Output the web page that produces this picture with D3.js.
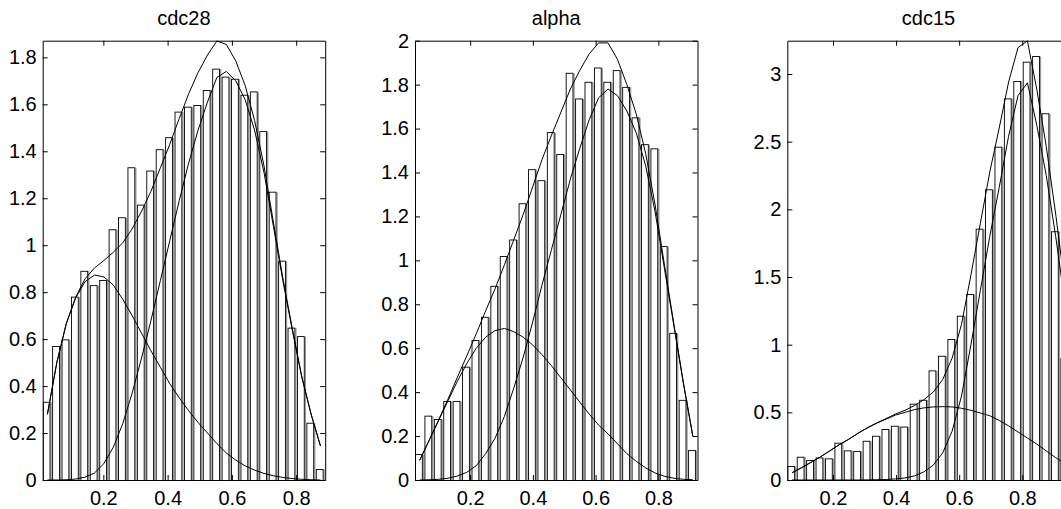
<!DOCTYPE html>
<html><head><meta charset="utf-8">
<script src="https://cdn.jsdelivr.net/npm/d3@7"></script>
<style>
body{margin:0;background:#fff;}
svg{display:block;}
text{font-family:"Liberation Sans",Arial,Helvetica,sans-serif;fill:#000;}
</style>
</head><body>
<svg id="chart" width="1061" height="509"></svg>
<script>
// ---------- data ----------
const titles = ["cdc28", "alpha", "cdc15"];
const xDomains = [[0.0113, 0.8903], [0.0242, 0.9247], [0.0552, 0.9506]];
const yMaxes = [1.871, 2.0, 3.246];
const xTickValues = [0.2, 0.4, 0.6, 0.8];
const yTicksCdc28 = [0, 0.2, 0.4, 0.6, 0.8, 1, 1.2, 1.4, 1.6, 1.8];
const yTicksAlpha = [0, 0.2, 0.4, 0.6, 0.8, 1, 1.2, 1.4, 1.6, 1.8, 2];
const yTicksCdc15 = [0, 0.5, 1, 1.5, 2, 2.5, 3];

// histogram bar heights (30 bins each)
const cdc28Bars = [0.333,0.571,0.599,0.781,0.891,0.830,0.852,1.068,1.119,1.332,1.173,1.318,1.409,1.460,1.569,1.590,1.597,1.661,1.752,1.718,1.709,1.641,1.655,1.486,1.228,0.934,0.649,0.613,0.244,0.047];
const alphaBars = [0.118,0.293,0.278,0.360,0.360,0.516,0.637,0.743,0.884,1.020,1.095,1.260,1.415,1.365,1.584,1.484,1.854,1.737,1.813,1.878,1.813,1.866,1.790,1.651,1.529,1.510,1.065,0.670,0.365,0.137];
const cdc15Bars = [0.103,0.172,0.148,0.167,0.160,0.276,0.219,0.215,0.290,0.327,0.377,0.401,0.395,0.564,0.593,0.810,0.918,1.042,1.214,1.374,1.857,2.148,2.463,2.820,2.948,3.091,3.133,2.710,1.838,0.900];

// fitted density curves, sampled at bin centres
const cdc28Comp1 = [0.28,0.50,0.665,0.775,0.845,0.873,0.865,0.83,0.77,0.70,0.625,0.55,0.48,0.41,0.35,0.295,0.245,0.20,0.155,0.115,0.085,0.06,0.042,0.028,0.018,0.011,0.006,0.003,0.001,0];
const cdc28Comp2 = [0,0,0.001,0.004,0.012,0.03,0.07,0.14,0.24,0.37,0.52,0.68,0.85,1.02,1.19,1.35,1.49,1.61,1.715,1.74,1.70,1.62,1.49,1.31,1.08,0.85,0.64,0.44,0.28,0.145];
const cdc28Total = [0.28,0.50,0.666,0.779,0.857,0.903,0.935,0.97,1.01,1.07,1.145,1.23,1.33,1.43,1.54,1.645,1.735,1.81,1.87,1.855,1.785,1.68,1.532,1.338,1.098,0.861,0.646,0.443,0.281,0.145];

const alphaComp1 = [0.09,0.18,0.27,0.36,0.45,0.53,0.60,0.65,0.68,0.69,0.675,0.65,0.615,0.57,0.52,0.465,0.41,0.355,0.30,0.25,0.21,0.165,0.12,0.085,0.055,0.032,0.017,0.008,0.003,0.001];
const alphaComp2 = [0,0.001,0.003,0.008,0.018,0.035,0.065,0.12,0.19,0.29,0.42,0.56,0.72,0.89,1.05,1.21,1.37,1.51,1.64,1.74,1.78,1.75,1.68,1.58,1.43,1.22,0.96,0.70,0.44,0.20];
const alphaTotal = [0.09,0.181,0.273,0.368,0.468,0.565,0.665,0.77,0.87,0.98,1.095,1.21,1.335,1.46,1.57,1.675,1.78,1.865,1.94,1.99,1.99,1.915,1.80,1.665,1.485,1.252,0.977,0.708,0.443,0.201];

const cdc15Comp1 = [0.054,0.09,0.13,0.17,0.215,0.26,0.30,0.345,0.385,0.42,0.45,0.48,0.50,0.52,0.533,0.54,0.542,0.54,0.53,0.515,0.495,0.475,0.44,0.40,0.355,0.31,0.265,0.215,0.165,0.12];
const cdc15Comp2 = [0,0,0,0,0,0,0,0,0.001,0.002,0.004,0.008,0.015,0.03,0.06,0.11,0.20,0.36,0.62,1.0,1.40,1.80,2.16,2.54,2.84,2.935,2.62,2.25,1.80,1.30];
const cdc15Total = [0.054,0.09,0.13,0.17,0.215,0.26,0.30,0.345,0.386,0.422,0.454,0.488,0.515,0.55,0.593,0.65,0.742,0.90,1.15,1.515,1.895,2.275,2.60,2.94,3.195,3.245,2.885,2.465,1.965,1.42];

const panels = [
  {title: titles[0], xd: xDomains[0], ymax: yMaxes[0], yt: yTicksCdc28, bars: cdc28Bars, curves: [cdc28Comp1, cdc28Comp2, cdc28Total]},
  {title: titles[1], xd: xDomains[1], ymax: yMaxes[1], yt: yTicksAlpha, bars: alphaBars, curves: [alphaComp1, alphaComp2, alphaTotal]},
  {title: titles[2], xd: xDomains[2], ymax: yMaxes[2], yt: yTicksCdc15, bars: cdc15Bars, curves: [cdc15Comp1, cdc15Comp2, cdc15Total]}
];

// ---------- layout ----------
const lefts = [42.7, 415, 787.3];
const pw = 282.5, topY = 40.7, bottomY = 480;
const svg = d3.select("#chart");
const fmt = d3.format("~g");

panels.forEach((p, pi) => {
  const L = lefts[pi], R = L + pw;
  const x = d3.scaleLinear().domain(p.xd).range([L, R]);
  const y = d3.scaleLinear().domain([0, p.ymax]).range([bottomY, topY]);
  const g = svg.append("g");
  const clipId = "clip" + pi;
  svg.append("clipPath").attr("id", clipId).append("rect")
     .attr("x", L).attr("y", topY - 1).attr("width", pw).attr("height", bottomY - topY + 2);
  const n = p.bars.length;
  const w = (p.xd[1] - p.xd[0]) / n;
  const edges = d3.range(n + 1).map(i => p.xd[0] + i * w);
  const centers = d3.range(n).map(i => p.xd[0] + (i + 0.5) * w);
  const plot = g.append("g").attr("clip-path", `url(#${clipId})`);

  // bars
  const bars = plot.selectAll("g.bar").data(p.bars).enter().append("g");
  bars.append("line")
    .attr("x1", (d, i) => x(edges[i + 1]) - 1)
    .attr("x2", (d, i) => x(edges[i + 1]) - 1)
    .attr("y1", d => y(d) + 0.5).attr("y2", bottomY)
    .attr("stroke", "#9a9a9a").attr("stroke-width", 1.3);
  bars.append("rect")
    .attr("x", (d, i) => x(edges[i]) + 0.5)
    .attr("y", d => y(d) + 0.5)
    .attr("width", (d, i) => x(edges[i + 1]) - x(edges[i]) - 2.6)
    .attr("height", d => bottomY - y(d))
    .attr("fill", "#fff").attr("stroke", "#000").attr("stroke-width", 0.9);

  // curves
  const line = d3.line().x((d, i) => x(centers[i])).y(d => y(d));
  p.curves.forEach(c => {
    plot.append("path").attr("d", line(c)).attr("fill", "none")
      .attr("stroke", "#000").attr("stroke-width", 1);
  });

  // axes
  const axL = d3.axisLeft(y).tickValues(p.yt).tickFormat(fmt).tickSize(-5).tickSizeOuter(0).tickPadding(6);
  const axR = d3.axisRight(y).tickValues(p.yt).tickFormat("").tickSize(-5).tickSizeOuter(0);
  const axT = d3.axisTop(x).tickValues(xTickValues).tickFormat("").tickSize(-5).tickSizeOuter(0);
  const axB = d3.axisBottom(x).tickValues(xTickValues).tickFormat(fmt).tickSize(-5).tickSizeOuter(0).tickPadding(11);
  const styleAxis = sel => {
    sel.selectAll("path").attr("stroke", "#000");
    sel.selectAll("line").attr("stroke", "#000");
    sel.selectAll("text").style("font-size", "20px").attr("fill", "#000");
    sel.attr("font-family", null);
  };
  g.append("g").attr("transform", `translate(${L},0)`).call(axL).call(styleAxis);
  g.append("g").attr("transform", `translate(${R},0)`).call(axR).call(styleAxis);
  g.append("g").attr("transform", `translate(0,${topY})`).call(axT).call(styleAxis);
  g.append("g").attr("transform", `translate(0,${bottomY})`).call(axB).call(styleAxis);

  // title
  g.append("text").attr("x", (L + R) / 2).attr("y", 24.5)
    .attr("text-anchor", "middle").style("font-size", "20px").text(p.title);
});
</script>
</body></html>
